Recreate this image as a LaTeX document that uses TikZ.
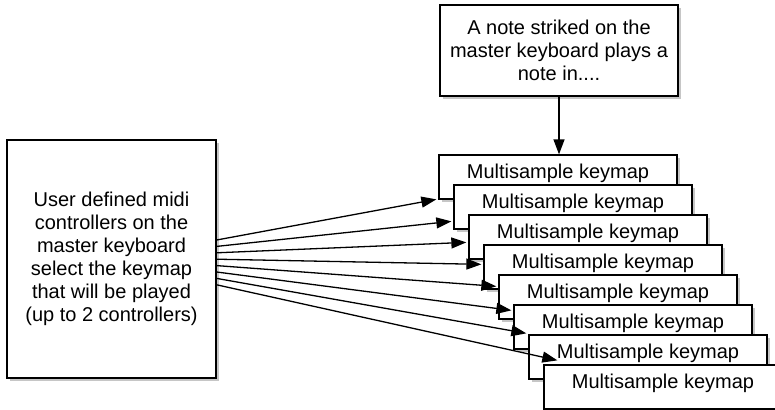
\documentclass[tikz,border=0pt]{standalone}
\usepackage{fontspec}
\setmainfont{Liberation Sans}
\usetikzlibrary{arrows.meta,shadows,calc}

\begin{document}
\begin{tikzpicture}[x=1pt,y=-1pt]
\tikzstyle{every node}+=[inner sep=0pt, font=\fontsize{20}{23}\selectfont]
\tikzstyle{box}=[draw=black, line width=1.3pt, fill=white, drop shadow={shadow xshift=3pt, shadow yshift=-3pt, opacity=0.45}]
\tikzstyle{keymap}=[box, minimum width=238pt, minimum height=44pt, text height=14.6pt, text depth=12.2pt]
\tikzstyle{arr}=[black, line width=1.3pt, -{Triangle[length=15pt,width=11pt]}]
\useasboundingbox (0,0) rectangle (775,409);
\clip (0,0) rectangle (775,409);
\node [box, minimum width=209pt, minimum height=238pt, align=center] (ctrl) at (111.5,259) {User defined midi\\controllers on the\\master keyboard\\select the keymap\\that will be played\\(up to 2 controllers)};
\node [box, minimum width=238pt, minimum height=91pt, align=center] (note) at (559,50.5) {A note striked on the\\master keyboard plays a\\note in....};
\node [keymap] (k1) at (558,177) {Multisample keymap};
\node [keymap] (k2) at (573,207) {Multisample keymap};
\node [keymap] (k3) at (588,237) {Multisample keymap};
\node [keymap] (k4) at (603,267) {Multisample keymap};
\node [keymap] (k5) at (618,297) {Multisample keymap};
\node [keymap] (k6) at (633,327) {Multisample keymap};
\node [keymap] (k7) at (648,357) {Multisample keymap};
\node [keymap] (k8) at (663,387) {Multisample keymap};
% arrow tips
\coordinate (t1) at ($(k1.north west)+(-2,45)$);
\coordinate (t2) at ($(k2.north west)+(-2,37)$);
\coordinate (t3) at ($(k3.north west)+(-2,28)$);
\coordinate (t4) at ($(k4.north west)+(-2,20)$);
\coordinate (t5) at ($(k5.north west)+(-2,12)$);
\coordinate (t6) at ($(k6.north west)+(-2,6)$);
\coordinate (t7) at ($(k7.north west)+(-2,-1)$);
\coordinate (t8) at ($(k8.north west)+(14,-4)$);
\draw [arr] (note.south) -- (note.south |- k1.north);
\draw [arr] ($(ctrl.east)+(0,-19)$) -- (t1);
\draw [arr] ($(ctrl.east)+(0,-12.6)$) -- (t2);
\draw [arr] ($(ctrl.east)+(0,-6.2)$) -- (t3);
\draw [arr] ($(ctrl.east)+(0,0.2)$) -- (t4);
\draw [arr] ($(ctrl.east)+(0,6.6)$) -- (t5);
\draw [arr] ($(ctrl.east)+(0,13)$) -- (t6);
\draw [arr] ($(ctrl.east)+(0,19.4)$) -- (t7);
\draw [arr] ($(ctrl.east)+(0,25.8)$) -- (t8);
\end{tikzpicture}
\end{document}
